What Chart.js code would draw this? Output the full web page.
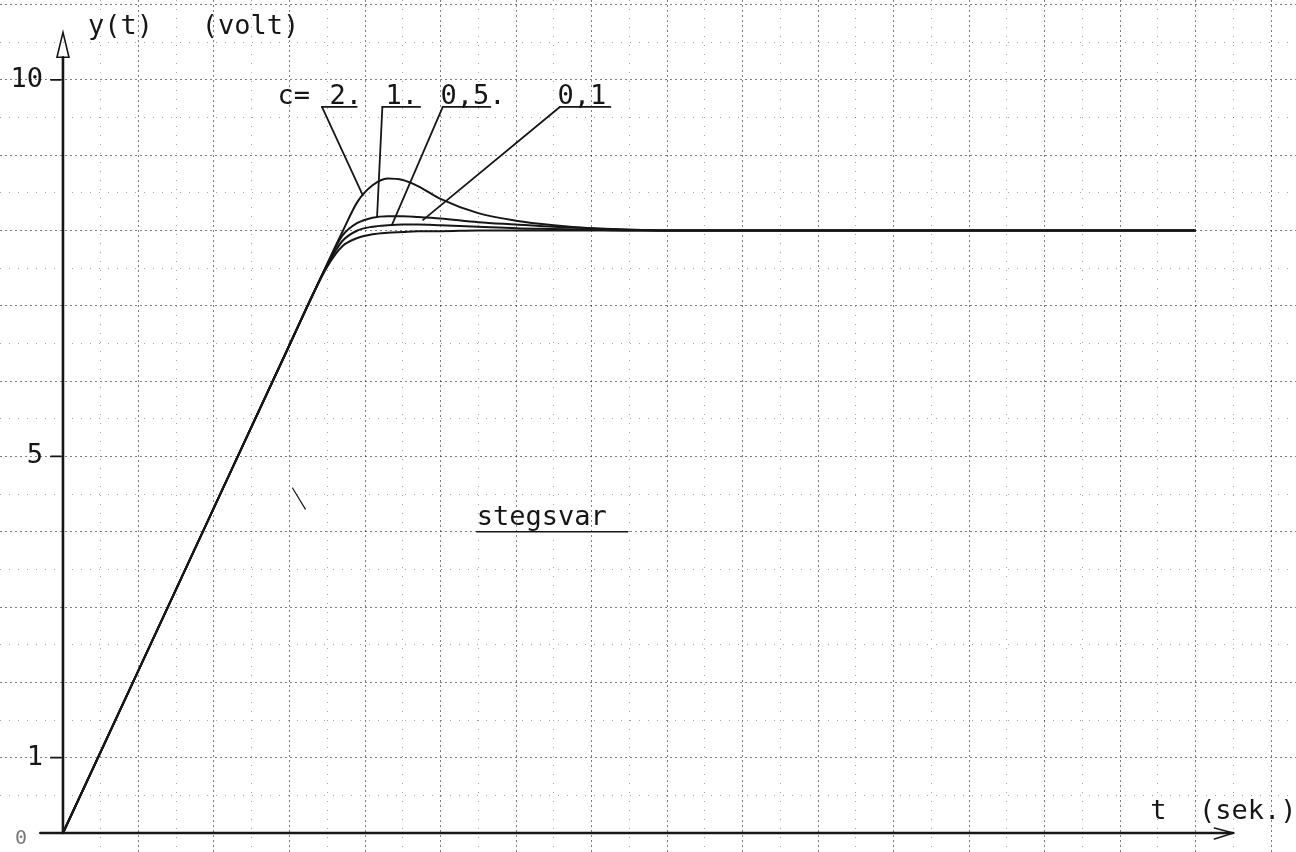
<!DOCTYPE html>
<html lang="sv">
<head>
<meta charset="UTF-8">
<title>Stegsvar</title>
<script src="https://cdn.jsdelivr.net/npm/chart.js"></script>
<style>
  html, body { margin: 0; padding: 0; background: #fff; }
  #wrap { width: 1296px; height: 852px; }
</style>
</head>
<body>
<div id="wrap"><canvas id="stepChart" width="1296" height="852"></canvas></div>

<script>
    // t (sek.) sample points shared by all four curves
    const tValues = [0, 1, 2, 3, 3.3, 3.5, 3.7, 3.9, 4.1, 4.3, 4.5, 4.7, 5.0, 5.5, 6.0, 6.5, 7.0, 7.5, 8.0, 15];

    // y(t) in volt for each value of c
    const yC2  = [0, 2.16, 4.32, 6.48, 7.13, 7.56, 7.98, 8.38, 8.60, 8.69, 8.67, 8.59, 8.42, 8.23, 8.13, 8.07, 8.03, 8.01, 8.0, 8.0];
    const yC1  = [0, 2.16, 4.32, 6.48, 7.13, 7.55, 7.93, 8.10, 8.17, 8.19, 8.19, 8.18, 8.16, 8.11, 8.08, 8.05, 8.03, 8.01, 8.0, 8.0];
    const yC05 = [0, 2.16, 4.32, 6.48, 7.13, 7.54, 7.86, 8.00, 8.05, 8.07, 8.08, 8.08, 8.07, 8.05, 8.03, 8.02, 8.01, 8.0, 8.0, 8.0];
    const yC01 = [0, 2.16, 4.32, 6.48, 7.13, 7.52, 7.79, 7.90, 7.95, 7.97, 7.98, 7.99, 7.99, 8.0, 8.0, 8.0, 8.0, 8.0, 8.0, 8.0];

    const cLabels = ['2.', '1.', '0,5.', '0,1'];
    const yTickValues = [1, 5, 10];

    // where each c label sits (t, y) and where its leader touches the curve
    const labelPos = [[3.53, 9.77], [4.27, 9.77], [5.0, 9.77], [6.55, 9.77]];
    const underline = [[3.43, 3.89], [4.23, 4.73], [5.03, 5.66], [6.58, 7.25]];
    const leaderEnd = [[3.97, 8.47], [4.16, 8.18], [4.36, 8.08], [4.77, 8.14]];
    const underlineY = 9.64;

    const FONT = '27px "DejaVu Sans Mono", monospace';
    const INK = '#161616';

    function toPoints(ys) {
        return tValues.map((t, i) => ({ x: t, y: ys[i] }));
    }

    function curve(label, ys) {
        return {
            label: label,
            data: toPoints(ys),
            borderColor: INK,
            borderWidth: 2,
            pointRadius: 0,
            fill: false,
            cubicInterpolationMode: 'monotone'
        };
    }

    function gridAxis(position, min, max, values, dash, color) {
        return {
            type: 'linear',
            position: position,
            min: min,
            max: max,
            afterBuildTicks: axis => { axis.ticks = values.map(v => ({ value: v })); },
            ticks: { display: false },
            grid: { drawTicks: false, color: color, lineWidth: 1 },
            border: { display: false, dash: dash }
        };
    }

    function range(from, to, step) {
        const out = [];
        for (let v = from; v <= to + 1e-9; v += step) out.push(+v.toFixed(2));
        return out;
    }

    // axes, arrows, tick labels and annotations drawn on top of the grid
    const paperPlugin = {
        id: 'paper',
        beforeDraw(chart) {
            const ctx = chart.ctx;
            ctx.save();
            ctx.fillStyle = '#fff';
            ctx.fillRect(0, 0, chart.width, chart.height);
            ctx.restore();
        },
        afterDatasetsDraw(chart) {
            const { ctx, scales: { x, y } } = chart;
            const px = v => x.getPixelForValue(v);
            const py = v => y.getPixelForValue(v);
            const seg = (x1, y1, x2, y2) => {
                ctx.beginPath(); ctx.moveTo(x1, y1); ctx.lineTo(x2, y2); ctx.stroke();
            };

            ctx.save();
            ctx.strokeStyle = INK;
            ctx.fillStyle = INK;
            ctx.lineCap = 'round';

            // y axis with open arrowhead
            const x0 = px(0), y0 = py(0);
            ctx.lineWidth = 2.6;
            seg(x0, y0, x0, py(10.3));
            ctx.lineWidth = 1.6;
            ctx.beginPath();
            ctx.moveTo(x0, py(10.63));
            ctx.lineTo(x0 - 6, py(10.3));
            ctx.lineTo(x0 + 6, py(10.3));
            ctx.closePath();
            ctx.stroke();

            // t axis with arrow
            ctx.lineWidth = 2.6;
            seg(px(-0.3), y0, px(15.5), y0);
            ctx.lineWidth = 1.6;
            seg(px(15.5), y0, px(15.25), y0 - 5);
            seg(px(15.5), y0, px(15.25), y0 + 6);

            // y ticks and labels
            ctx.font = FONT;
            ctx.textBaseline = 'middle';
            ctx.textAlign = 'right';
            ctx.lineWidth = 1.8;
            yTickValues.forEach(v => {
                seg(x0 - 12, py(v), x0 - 2, py(v));
                ctx.fillText(String(v), x0 - 20, py(v));
            });
            ctx.fillStyle = '#777';
            ctx.font = '20px "DejaVu Sans Mono", monospace';
            ctx.fillText('0', x0 - 36, y0 + 6);
            ctx.fillStyle = INK;
            ctx.font = FONT;

            // axis titles
            ctx.textAlign = 'left';
            ctx.fillText('y(t)   (volt)', px(0.33), py(10.7));
            ctx.fillText('t  (sek.)', px(14.4), py(0.28));

            // c labels with underlines and leaders
            ctx.fillText('c=', px(2.84), py(9.77));
            ctx.lineWidth = 1.8;
            cLabels.forEach((txt, i) => {
                ctx.fillText(txt, px(labelPos[i][0]), py(labelPos[i][1]));
                const [u0, u1] = underline[i];
                seg(px(u0), py(underlineY), px(u1), py(underlineY));
                seg(px(u0), py(underlineY), px(leaderEnd[i][0]), py(leaderEnd[i][1]));
            });

            // curve name
            ctx.fillText('stegsvar', px(5.48), py(4.18));
            ctx.lineWidth = 1.6;
            seg(px(5.48), py(4.0), px(7.48), py(4.0));

            // small stray pen stroke
            ctx.lineWidth = 1.2;
            seg(px(3.04), py(4.58), px(3.21), py(4.3));

            ctx.restore();
        }
    };

    const ctx = document.getElementById('stepChart').getContext('2d');
    new Chart(ctx, {
        type: 'line',
        data: {
            datasets: [
                curve('c = 2', yC2),
                curve('c = 1', yC1),
                curve('c = 0,5', yC05),
                curve('c = 0,1', yC01)
            ]
        },
        options: {
            responsive: false,
            animation: false,
            layout: { padding: 0 },
            plugins: {
                legend: { display: false },
                tooltip: { enabled: false }
            },
            scales: {
                x: gridAxis('bottom', -0.834, 16.33, range(1, 16, 1), [2, 3], 'rgba(0,0,0,0.5)'),
                y: gridAxis('left', -0.252, 11.06, range(1, 11, 1), [2, 3], 'rgba(0,0,0,0.5)'),
                xMinor: gridAxis('bottom', -0.834, 16.33, range(0.5, 16.5, 1), [1, 8], 'rgba(0,0,0,0.35)'),
                yMinor: gridAxis('left', -0.252, 11.06, range(0.5, 10.5, 1), [1, 8], 'rgba(0,0,0,0.35)')
            }
        },
        plugins: [paperPlugin]
    });
</script>
</body>
</html>
